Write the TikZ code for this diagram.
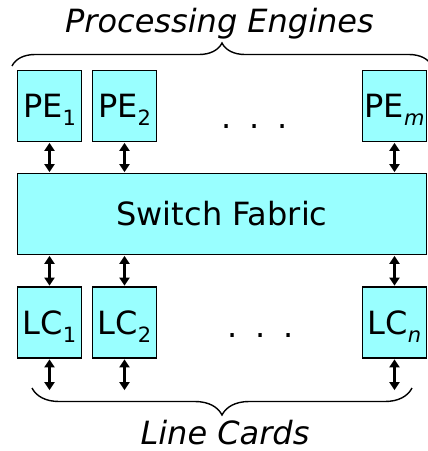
\documentclass[tikz,border=0pt]{standalone}
\usepackage{fontspec}
\setmainfont{DejaVu Sans}
\usetikzlibrary{arrows.meta,decorations.pathreplacing}
\definecolor{boxcyan}{RGB}{153,255,255}
\newcommand\mysub[1]{\raisebox{-8pt}{\fontsize{21}{22}\selectfont #1}}
\begin{document}
\begin{tikzpicture}[x=1pt,y=-1pt,
  bigfont/.style={font=\fontsize{32}{38}\selectfont},
  box/.style={draw=black, line width=1.5pt, fill=boxcyan, minimum width=64pt,
    minimum height=71pt, inner sep=0pt, text height=23pt, text depth=0pt, bigfont},
  link/.style={line width=2.8pt, {Triangle[length=8pt,width=10pt]}-{Triangle[length=8pt,width=10pt]}, shorten <=0.6pt, shorten >=0.6pt},
  bracestyle/.style={line width=1.4pt, decorate},
  dots/.style={bigfont, anchor=base, inner sep=0pt}]
\useasboundingbox (0,0) rectangle (428,451);
% top row
\node[box] (pe1) at (49.5,106) {PE\mysub{1}};
\node[box] (pe2) at (124.5,106) {PE\mysub{2}};
\node[box] (pem) at (394.5,106) {PE\mysub{\itshape m}};
\node[dots] (pedots) at (255,128.5) {.\hspace{17.8pt}.\hspace{17.8pt}.};
% fabric
\node[box, minimum width=409pt, minimum height=81pt] (fab) at (222,214) {Switch Fabric};
% bottom row
\node[box] (lc1) at (49.5,322.5) {LC\mysub{1}};
\node[box] (lc2) at (124.5,322.5) {LC\mysub{2}};
\node[box] (lcn) at (394.5,322.5) {LC\mysub{\itshape n}};
\node[dots] (lcdots) at (261,337.5) {.\hspace{17.8pt}.\hspace{17.8pt}.};
% links
\foreach \p in {pe1,pe2,pem} \draw[link] (\p.south) -- (\p.south |- fab.north);
\foreach \l in {lc1,lc2,lcn} \draw[link] (\l.north |- fab.south) -- (\l.north);
\foreach \l in {lc1,lc2,lcn} {
  \coordinate (\l end) at ([yshift=-32pt]\l.south);
  \draw[link] (\l.south) -- (\l end);
}
% braces
\coordinate (tbl) at (12,66);
\coordinate (tbr) at (432,66);
\draw[bracestyle, decoration={brace, amplitude=23pt}] (tbl) -- (tbr);
\coordinate (bbl) at (32,388);
\coordinate (bbr) at (412,388);
\draw[bracestyle, decoration={brace, amplitude=27pt}] (bbr) -- (bbl);
% titles
\node[bigfont, anchor=base, inner sep=0pt, font=\fontsize{32}{38}\selectfont\itshape] (pet) at (219.5,32) {Processing Engines};
\node[bigfont, anchor=base, inner sep=0pt, font=\fontsize{32}{38}\selectfont\itshape] (lct) at (225,444) {Line Cards};
\end{tikzpicture}
\end{document}
